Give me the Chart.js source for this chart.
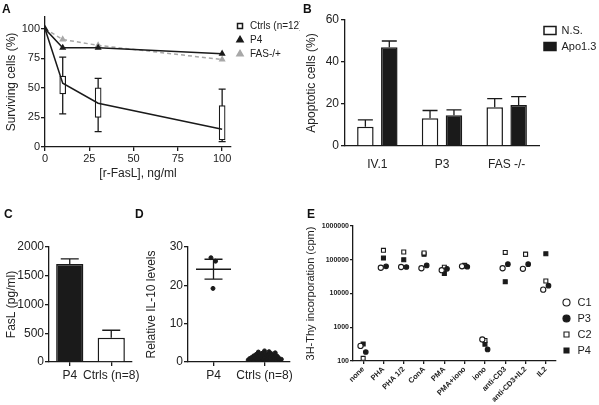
<!DOCTYPE html>
<html>
<head>
<meta charset="utf-8">
<script src="https://cdn.jsdelivr.net/npm/chart.js@4.4.1/dist/chart.umd.min.js"></script>
<style>
  html, body { margin: 0; padding: 0; background: #fff; }
  #fig { position: relative; width: 599px; height: 405px; overflow: hidden; background: #fff; }
  .panel { position: absolute; }
  .tag { position: absolute; font: bold 12px "Liberation Sans", Arial, sans-serif; color: #111; line-height: 1; }
</style>
</head>
<body>
<div id="fig">
  <div class="panel" style="left:0;top:0;width:300px;height:185px"><canvas id="chartA"></canvas></div>
  <div class="panel" style="left:300px;top:0;width:299px;height:185px"><canvas id="chartB"></canvas></div>
  <div class="panel" style="left:0;top:200px;width:145px;height:205px"><canvas id="chartC"></canvas></div>
  <div class="panel" style="left:140px;top:200px;width:160px;height:205px"><canvas id="chartD"></canvas></div>
  <div class="panel" style="left:300px;top:200px;width:299px;height:205px"><canvas id="chartE"></canvas></div>
  <div class="tag" style="left:2px;top:3px">A</div>
  <div class="tag" style="left:303px;top:3px">B</div>
  <div class="tag" style="left:4px;top:208px">C</div>
  <div class="tag" style="left:135px;top:208px">D</div>
  <div class="tag" style="left:307px;top:208px">E</div>
</div>
<script>
// ---- A: survival vs r-FasL dose
const doseX = [0, 10, 30, 100];
const ctrlMedian = [100, 54, 37, 15];
const p4Surv = [100, 84, 84, 79];
const fasSurv = [100, 91, 86, 74];
const boxX = [10, 30, 100];
const boxQ1 = [45, 25, 6];
const boxQ3 = [60, 50, 35];
const whiskLo = [28, 13, 4.5];
const whiskHi = [76, 58, 49];
const aXTicks = [0, 25, 50, 75, 100];
const aYTicks = [0, 25, 50, 75, 100];

// ---- B: apoptotic cells
const bCats = ['IV.1', 'P3', 'FAS -/-'];
const nsVals = [9.2, 13.2, 18.5];
const nsErr = [12.4, 16.9, 22.6];
const apoVals = [47, 14.7, 19.5];
const apoErr = [50, 17.2, 23.5];

// ---- C: FasL
const cCats = ['P4', 'Ctrls (n=8)'];
const cVals = [1705, 420];
const cErr = [1795, 552];

// ---- D: IL-10 (x = 1 for P4, 2 for Ctrls, small jitter)
const dCats = ['P4', 'Ctrls (n=8)'];
const dP4X = [0.95, 1.04, 0.99];
const dP4Y = [27.2, 26.3, 19.2];
const dP4Mean = 24.2, dP4Lo = 21.6, dP4Hi = 26.8;
const dCtrlX = [1.68, 1.71, 1.73, 1.75, 1.77, 1.79, 1.80, 1.82, 1.84, 1.85, 1.87, 1.88, 1.90, 1.91,
  1.93, 1.94, 1.96, 1.97, 1.99, 2.00, 2.01, 2.03, 2.04, 2.06, 2.07, 2.09, 2.10, 2.12, 2.13, 2.15,
  2.16, 2.18, 2.19, 2.21, 2.23, 2.24, 2.26, 2.27, 2.29, 2.31, 2.33];
const dCtrlY = [0.5, 0.9, 0.3, 1.2, 0.6, 1.6, 0.2, 1.0, 2.0, 0.5, 1.4, 2.6, 0.8, 1.9,
  0.3, 1.2, 2.3, 0.6, 1.6, 2.9, 0.4, 1.1, 2.1, 0.7, 1.7, 2.7, 0.3, 1.3, 2.2, 0.8,
  1.8, 0.4, 1.4, 2.4, 0.9, 1.6, 0.5, 1.2, 0.8, 0.4, 0.7];
const dYTicks = [0, 10, 20, 30];

// ---- E: 3H-Thy incorporation
const eCats = ['none', 'PHA', 'PHA 1/2', 'ConA', 'PMA', 'PMA+iono', 'iono', 'anti-CD3', 'anti-CD3+IL2', 'IL2'];
const eC1 = [280, 58000, 61000, 56000, 49000, 64000, 435, 56000, 54000, 13000];
const eP3 = [185, 64000, 61000, 68000, 54000, 62000, 220, 74000, 74000, 17000];
const eC2 = [120, 190000, 170000, 158000, 60000, 65000, 405, 165000, 145000, 23500];
const eP4 = [320, 112000, 100000, 145000, 39000, 68000, 316, 22400, 145000, 150000];
const eShift = { C1: -0.13, P3: 0.13, C2: 0, P4: 0 };
const eYTicks = [100, 1000, 10000, 100000, 1000000];

Chart.defaults.font.family = '"Liberation Sans", Arial, Helvetica, sans-serif';
Chart.defaults.color = '#222';
Chart.defaults.animation = false;
Chart.defaults.events = [];
Chart.defaults.plugins.tooltip.enabled = false;

const INK = '#1a1a1a';

// error bars / whiskers drawn through the chart's own scales
function drawErrors(chart, behind) {
  const ctx = chart.ctx;
  chart.data.datasets.forEach((ds, i) => {
    const err = ds.err;
    if (!err || !!err.behind !== behind) return;
    const meta = chart.getDatasetMeta(i);
    const ys = chart.scales[meta.yAxisID];
    ctx.save();
    ctx.strokeStyle = INK;
    ctx.lineWidth = err.lineWidth || 1.3;
    meta.data.forEach((el, j) => {
      const hi = err.high[j];
      if (hi == null) return;
      const x = el.x;
      const yHi = ys.getPixelForValue(hi);
      const yLo = err.low ? ys.getPixelForValue(err.low[j]) : el.y;
      ctx.beginPath();
      ctx.moveTo(x, yLo); ctx.lineTo(x, yHi);
      ctx.moveTo(x - err.cap, yHi); ctx.lineTo(x + err.cap, yHi);
      if (err.low) { ctx.moveTo(x - err.cap, yLo); ctx.lineTo(x + err.cap, yLo); }
      ctx.stroke();
    });
    ctx.restore();
  });
}
const errorBars = {
  id: 'errorBars',
  beforeDatasetsDraw(chart) { drawErrors(chart, true); },
  afterDatasetsDraw(chart) { drawErrors(chart, false); }
};

// mean +/- SEM marker (panel D)
const meanSem = {
  id: 'meanSem',
  afterDatasetsDraw(chart) {
    const ctx = chart.ctx, xs = chart.scales.x, ys = chart.scales.y;
    chart.data.datasets.forEach(ds => {
      const s = ds.summary;
      if (!s) return;
      const x = xs.getPixelForValue(s.at);
      const yM = ys.getPixelForValue(s.mean), yL = ys.getPixelForValue(s.lo), yH = ys.getPixelForValue(s.hi);
      ctx.save();
      ctx.strokeStyle = INK;
      ctx.lineWidth = 1.3;
      ctx.beginPath();
      ctx.moveTo(x - 17.5, yM); ctx.lineTo(x + 17.5, yM);
      ctx.moveTo(x, yL); ctx.lineTo(x, yH);
      ctx.moveTo(x - 9, yL); ctx.lineTo(x + 9, yL);
      ctx.moveTo(x - 9, yH); ctx.lineTo(x + 9, yH);
      ctx.stroke();
      ctx.restore();
    });
  }
};

function gridOpts(len) {
  return { display: true, drawOnChartArea: false, drawTicks: true, tickLength: len, color: INK, lineWidth: 1.3, offset: false };
}
const borderOpts = { display: true, color: INK, width: 1.3 };
const fixedTicks = vals => s => { s.ticks = vals.map(v => ({ value: v })); };

// ---------------- A ----------------
new Chart(document.getElementById('chartA'), {
  type: 'line',
  data: {
    datasets: [
      { label: 'Ctrls (n=12)', data: doseX.map((x, i) => ({ x, y: ctrlMedian[i] })),
        borderColor: INK, backgroundColor: '#fff', borderWidth: 1.5, pointRadius: 0,
        pointStyle: 'rect', order: 1 },
      { label: 'P4', data: doseX.map((x, i) => ({ x, y: p4Surv[i] })),
        borderColor: INK, backgroundColor: INK, borderWidth: 1.5, pointStyle: 'triangle',
        pointRadius: 2.6, pointBackgroundColor: INK, order: 0 },
      { label: 'FAS-/+', data: doseX.map((x, i) => ({ x, y: fasSurv[i] })),
        borderColor: '#a8a8a8', backgroundColor: '#a8a8a8', borderWidth: 1.5, borderDash: [4, 3],
        pointStyle: 'triangle', pointRadius: 2.6, pointBackgroundColor: '#a8a8a8', order: 0 },
      { type: 'bar', label: 'box', data: boxX.map((x, i) => ({ x, y: [boxQ1[i], boxQ3[i]] })),
        backgroundColor: '#fff', borderColor: INK, borderWidth: 1.2, borderSkipped: false,
        barThickness: 6, order: 2,
        err: { low: whiskLo, high: whiskHi, cap: 3.5, behind: true } }
    ]
  },
  options: {
    responsive: true, maintainAspectRatio: false,
    layout: { padding: { top: 17, left: 0, right: 0, bottom: 0 } },
    plugins: {
      legend: {
        position: 'right', align: 'start', maxWidth: 69, fullSize: false,
        labels: {
          usePointStyle: true, boxHeight: 5, padding: 4, color: '#222',
          font: { size: 10 },
          filter: item => item.text !== 'box',
          sort: (a, b) => a.datasetIndex - b.datasetIndex
        }
      }
    },
    scales: {
      x: {
        type: 'linear', min: 0, max: 105, offset: false,
        afterBuildTicks: fixedTicks(aXTicks),
        afterFit: s => { s.height = 38; },
        grid: gridOpts(4), border: borderOpts,
        ticks: { color: '#222', font: { size: 11 }, padding: 1 },
        title: { display: true, text: '[r-FasL], ng/ml', color: '#222', font: { size: 12 }, padding: { top: 1 } }
      },
      y: {
        min: 0, max: 110,
        afterBuildTicks: fixedTicks(aYTicks),
        afterFit: s => { s.width = 45; },
        grid: gridOpts(4), border: borderOpts,
        ticks: { color: '#222', font: { size: 11 }, padding: 1 },
        title: { display: true, text: 'Surviving cells (%)', color: '#222', font: { size: 12 }, padding: { bottom: 2 } }
      }
    }
  },
  plugins: [errorBars]
});

// ---------------- B ----------------
new Chart(document.getElementById('chartB'), {
  type: 'bar',
  data: {
    labels: bCats,
    datasets: [
      { label: 'N.S.', data: nsVals, backgroundColor: '#fff', borderColor: INK, borderWidth: 1.5,
        err: { high: nsErr, cap: 7.5 } },
      { label: 'Apo1.3', data: apoVals, backgroundColor: INK, borderColor: INK, borderWidth: 1.5,
        err: { high: apoErr, cap: 7.5 } }
    ]
  },
  options: {
    responsive: true, maintainAspectRatio: false,
    categoryPercentage: 0.74, barPercentage: 0.69,
    layout: { padding: { top: 20, left: 0, right: 0, bottom: 0 } },
    plugins: {
      legend: {
        position: 'right', align: 'start', maxWidth: 60, fullSize: false,
        labels: { boxWidth: 12, boxHeight: 8, padding: 5, color: '#222', font: { size: 11 } }
      }
    },
    scales: {
      x: {
        afterFit: s => { s.height = 39; },
        grid: { display: false }, border: borderOpts,
        ticks: { color: '#222', font: { size: 12 }, padding: 3 }
      },
      y: {
        min: 0, max: 60,
        ticks: { stepSize: 20, color: '#222', font: { size: 12 }, padding: 2 },
        afterFit: s => { s.width = 45; },
        grid: gridOpts(4), border: borderOpts,
        title: { display: true, text: 'Apoptotic cells (%)', color: '#222', font: { size: 12 }, padding: { bottom: 1 } }
      }
    }
  },
  plugins: [errorBars]
});

// ---------------- C ----------------
new Chart(document.getElementById('chartC'), {
  type: 'bar',
  data: {
    labels: cCats,
    datasets: [
      { label: 'FasL', data: cVals, backgroundColor: [INK, '#fff'], borderColor: INK, borderWidth: 1.5,
        err: { high: cErr, cap: 9 } }
    ]
  },
  options: {
    responsive: true, maintainAspectRatio: false,
    categoryPercentage: 0.8, barPercentage: 0.82,
    layout: { padding: { top: 47, left: 0, right: 13, bottom: 0 } },
    plugins: { legend: { display: false } },
    scales: {
      x: {
        afterFit: s => { s.height = 43; },
        grid: gridOpts(4), border: borderOpts,
        ticks: { color: '#222', font: { size: 12 }, padding: 2, autoSkip: false, maxRotation: 0 }
      },
      y: {
        min: 0, max: 2000,
        ticks: { stepSize: 500, color: '#222', font: { size: 12 }, padding: 1, callback: v => String(v) },
        afterFit: s => { s.width = 49; },
        grid: gridOpts(4), border: borderOpts,
        title: { display: true, text: 'FasL (pg/ml)', color: '#222', font: { size: 12 }, padding: { bottom: 1 } }
      }
    }
  },
  plugins: [errorBars]
});

// ---------------- D ----------------
new Chart(document.getElementById('chartD'), {
  type: 'scatter',
  data: {
    datasets: [
      { label: 'P4', data: dP4X.map((x, i) => ({ x, y: dP4Y[i] })),
        backgroundColor: INK, borderColor: INK, pointRadius: 2,
        summary: { at: 1, mean: dP4Mean, lo: dP4Lo, hi: dP4Hi } },
      { label: 'Ctrls', data: dCtrlX.map((x, i) => ({ x, y: dCtrlY[i] })),
        backgroundColor: INK, borderColor: INK, pointRadius: 2 }
    ]
  },
  options: {
    responsive: true, maintainAspectRatio: false,
    layout: { padding: { top: 47, left: 0, right: 10, bottom: 0 } },
    plugins: { legend: { display: false } },
    scales: {
      x: {
        type: 'linear', min: 0.5, max: 2.5,
        afterBuildTicks: fixedTicks([1, 2]),
        afterFit: s => { s.height = 43; },
        grid: gridOpts(4), border: borderOpts,
        ticks: { color: '#222', font: { size: 12 }, padding: 2, callback: v => dCats[v - 1] }
      },
      y: {
        min: 0, max: 30,
        afterBuildTicks: fixedTicks(dYTicks),
        afterFit: s => { s.width = 48; },
        grid: gridOpts(4), border: borderOpts,
        ticks: { color: '#222', font: { size: 12 }, padding: 1 },
        title: { display: true, text: 'Relative IL-10 levels', color: '#222', font: { size: 12 }, padding: { bottom: 1 } }
      }
    }
  },
  plugins: [meanSem]
});

// ---------------- E ----------------
function eSeries(label, vals, style, fill, r) {
  return {
    label, data: vals.map((v, i) => ({ x: i + eShift[label], y: v })),
    pointStyle: style, pointRadius: r, borderWidth: 1.1,
    borderColor: INK, backgroundColor: fill, pointBackgroundColor: fill
  };
}
new Chart(document.getElementById('chartE'), {
  type: 'scatter',
  data: {
    datasets: [
      eSeries('C1', eC1, 'circle', '#fff', 2.6),
      eSeries('P3', eP3, 'circle', INK, 2.3),
      eSeries('C2', eC2, 'rect', '#fff', 2.8),
      eSeries('P4', eP4, 'rect', INK, 2.8)
    ]
  },
  options: {
    responsive: true, maintainAspectRatio: false,
    layout: { padding: { top: 26, left: 0, right: 0, bottom: 0 } },
    plugins: {
      legend: {
        position: 'right', align: 'end', maxWidth: 43, fullSize: false,
        labels: { usePointStyle: true, boxHeight: 5, padding: 5, color: '#222', font: { size: 11 } }
      }
    },
    scales: {
      x: {
        type: 'linear', min: -0.5, max: 9.5,
        afterBuildTicks: fixedTicks(eCats.map((c, i) => i)),
        afterFit: s => { s.height = 44; },
        grid: gridOpts(3), border: borderOpts,
        ticks: { color: '#222', font: { size: 7.5, weight: 'bold' }, padding: 1,
          minRotation: 45, maxRotation: 45, autoSkip: false, callback: v => eCats[v] }
      },
      y: {
        type: 'logarithmic', min: 100, max: 1000000,
        afterBuildTicks: fixedTicks(eYTicks),
        afterFit: s => { s.width = 53; },
        grid: gridOpts(3), border: borderOpts,
        ticks: { color: '#222', font: { size: 7, weight: 'bold' }, padding: 1, callback: v => String(v) },
        title: { display: true, text: '3H-Thy incorporation (cpm)', color: '#222', font: { size: 11 }, padding: { bottom: 1 } }
      }
    }
  }
});
</script>
</body>
</html>
